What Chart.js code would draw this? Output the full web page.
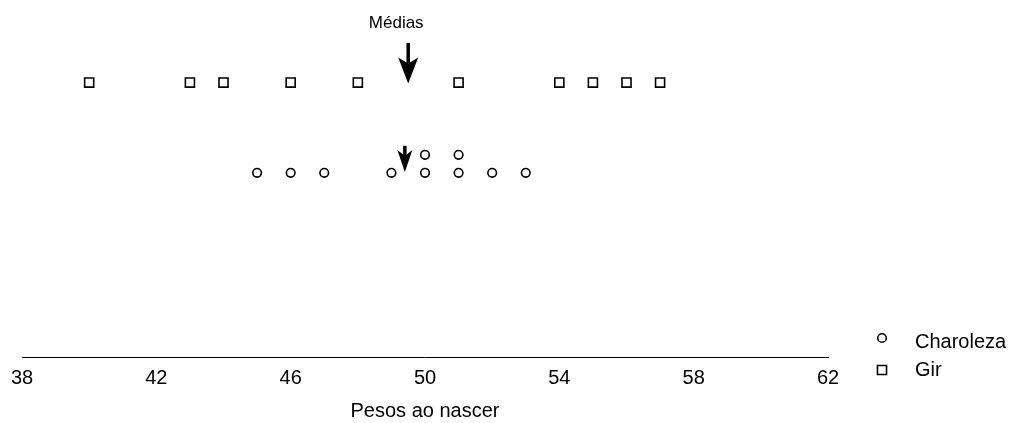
<!DOCTYPE html>
<html>
<head>
<meta charset="utf-8">
<script src="https://cdn.jsdelivr.net/npm/chart.js@4/dist/chart.umd.min.js"></script>
<style>
  html, body { margin: 0; padding: 0; background: #fff; }
  #wrap { width: 1010px; height: 423px; }
</style>
</head>
<body>
<div id="wrap"><canvas id="pesosChart"></canvas></div>
<script>
// pesos ao nascer (kg)
const pesosGir = [40, 43, 44, 46, 48, 51, 54, 55, 56, 57];
const niveisGir = [15.2, 15.2, 15.2, 15.2, 15.2, 15.2, 15.2, 15.2, 15.2, 15.2];
const pesosCharoleza = [45, 46, 47, 49, 50, 51, 52, 53, 50, 51];
const niveisCharoleza = [10.2, 10.2, 10.2, 10.2, 10.2, 10.2, 10.2, 10.2, 11.2, 11.2];
const xTicks = [38, 42, 46, 50, 54, 58, 62];
// posicao das setas (medias)
const mediaGir = 49.5;
const mediaCharoleza = 49.4;

const fonte = "'Liberation Sans', Arial, sans-serif";

function toPoints(xs, ys) {
    return xs.map((x, i) => ({ x: x, y: ys[i] }));
}

function drawArrow(ctx, x, yTop, yTip, headLen, halfW) {
    const notch = 6;
    ctx.save();
    ctx.fillStyle = "#000";
    ctx.strokeStyle = "#000";
    ctx.lineWidth = 3.5;
    ctx.beginPath();
    ctx.moveTo(x, yTop);
    ctx.lineTo(x, yTip - headLen + notch);
    ctx.stroke();
    ctx.beginPath();
    ctx.moveTo(x, yTip);
    ctx.lineTo(x - halfW, yTip - headLen);
    ctx.lineTo(x, yTip - headLen + notch);
    ctx.lineTo(x + halfW, yTip - headLen);
    ctx.closePath();
    ctx.fill();
    ctx.restore();
}

const mediasPlugin = {
    id: "medias",
    afterDatasetsDraw(chart) {
        const ctx = chart.ctx;
        const xs = chart.scales.x;
        const ys = chart.scales.y;

        const xGir = xs.getPixelForValue(mediaGir);
        drawArrow(ctx, xGir, ys.getPixelForValue(17.4), ys.getPixelForValue(15.15), 26, 10);

        const xCha = xs.getPixelForValue(mediaCharoleza);
        drawArrow(ctx, xCha, ys.getPixelForValue(11.7), ys.getPixelForValue(10.25), 22, 7.5);

        ctx.save();
        ctx.fillStyle = "#000";
        ctx.font = "17px " + fonte;
        ctx.textAlign = "center";
        ctx.textBaseline = "middle";
        ctx.fillText("Médias", xGir - 12, ys.getPixelForValue(18.5));
        ctx.restore();

        // legenda
        ctx.save();
        ctx.font = "20px " + fonte;
        ctx.textBaseline = "middle";
        chart.data.datasets.forEach((ds, i) => {
            const y = 342 + i * 28;
            ctx.strokeStyle = "#000";
            ctx.lineWidth = ds.borderWidth;
            ctx.fillStyle = "#fff";
            ctx.beginPath();
            if (ds.pointStyle === "circle") {
                ctx.arc(882, y - 4, ds.pointRadius, 0, Math.PI * 2);
            } else {
                const h = ds.pointRadius * Math.SQRT1_2;
                ctx.rect(882 - h, y - h, 2 * h, 2 * h);
            }
            ctx.fill();
            ctx.stroke();
            ctx.fillStyle = "#000";
            ctx.fillText(ds.label, 915, y);
        });
        ctx.restore();
    }
};

new Chart(document.getElementById("pesosChart"), {
    type: "scatter",
    data: {
        datasets: [
            {
                label: "Charoleza",
                data: toPoints(pesosCharoleza, niveisCharoleza),
                pointStyle: "circle",
                pointRadius: 4.3,
                borderWidth: 1.6,
                borderColor: "#000",
                backgroundColor: "#fff"
            },
            {
                label: "Gir",
                data: toPoints(pesosGir, niveisGir),
                pointStyle: "rect",
                pointRadius: 6.4,
                borderWidth: 1.6,
                borderColor: "#000",
                backgroundColor: "#fff"
            }
        ]
    },
    options: {
        responsive: true,
        maintainAspectRatio: false,
        animation: false,
        layout: {
            padding: { left: 22, right: 182, top: 14, bottom: 0 }
        },
        plugins: {
            legend: { display: false },
            tooltip: { enabled: false }
        },
        scales: {
            x: {
                type: "linear",
                min: 38,
                max: 62,
                afterBuildTicks: axis => {
                    axis.ticks = xTicks.map(v => ({ value: v }));
                },
                grid: { display: false, drawTicks: false },
                border: { display: true, color: "#000", width: 1 },
                ticks: {
                    color: "#000",
                    padding: 9,
                    font: { family: fonte, size: 20 }
                },
                title: {
                    display: true,
                    text: "Pesos ao nascer",
                    color: "#000",
                    padding: { top: 0, bottom: 0 },
                    font: { family: fonte, size: 20 }
                }
            },
            y: {
                display: false,
                min: 0,
                max: 19
            }
        }
    },
    plugins: [mediasPlugin]
});
</script>
</body>
</html>
